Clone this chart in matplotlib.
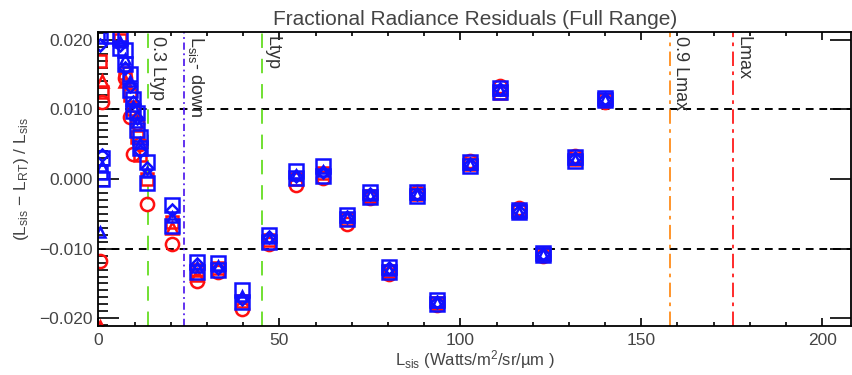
import numpy as np
import matplotlib
matplotlib.use("Agg")
import matplotlib.pyplot as plt
from matplotlib.ticker import MultipleLocator

plt.rcParams['font.family'] = ['Liberation Sans', 'DejaVu Sans']
plt.rcParams['mathtext.default'] = 'regular'

nan = np.nan

# Radiance levels (Watts/m^2/sr/um)
radiance = [0.4, 1.0, 3.5, 6.0, 7.4, 8.6, 9.6, 10.6, 11.6, 13.4, 20.3, 27.3,
            33.0, 39.6, 47.1, 54.6, 62.0, 68.6, 75.0, 80.2, 88.0, 93.5,
            102.6, 111.0, 116.2, 122.8, 131.6, 139.9]

# Fractional residuals per detector group
blue_sq_a = [0.0205, 0.0030, 0.0205, 0.0203, 0.0185, 0.0150, 0.0115, 0.0095,
             0.0060, 0.0025, -0.0038, -0.0119, -0.0120, -0.0159, -0.0080,
             0.0011, 0.0018, -0.0051, -0.0019, -0.0126, -0.0019, -0.0174,
             0.0024, 0.0131, -0.0045, -0.0106, 0.0031, 0.0116]
blue_sq_b = [0.0010, 0.0000, nan, 0.0188, 0.0165, 0.0128, 0.0098, 0.0070,
             0.0045, -0.0006, -0.0068, -0.0134, -0.0131, -0.0177, -0.0090,
             0.0002, 0.0005, -0.0058, -0.0026, -0.0134, -0.0024, -0.0179,
             0.0019, 0.0125, -0.0048, -0.0109, 0.0026, 0.0114]
blue_tri = [-0.0076, 0.0018, nan, 0.0196, 0.0172, 0.0140, 0.0105, 0.0082,
            0.0052, 0.0010, -0.0055, -0.0126, -0.0125, -0.0168, -0.0085,
            0.0006, 0.0012, -0.0055, -0.0023, -0.0130, -0.0022, -0.0177,
            0.0021, 0.0128, -0.0047, -0.0108, 0.0029, 0.0115]
blue_dia = [0.0192, 0.0035, nan, 0.0192, 0.0160, 0.0133, 0.0110, 0.0088,
            0.0040, 0.0016, -0.0045, -0.0122, -0.0128, -0.0172, -0.0083,
            0.0004, 0.0010, -0.0054, -0.0021, -0.0128, -0.0021, -0.0176,
            0.0022, 0.0129, -0.0046, -0.0107, 0.0030, 0.0115]
red_circ = [-0.0118, 0.0110, nan, nan, 0.0145, 0.0089, 0.0036, 0.0080,
            0.0050, -0.0036, -0.0093, -0.0146, -0.0134, -0.0186, -0.0094,
            -0.0009, 0.0001, -0.0064, -0.0028, -0.0136, -0.0018, -0.0181,
            0.0026, 0.0133, -0.0042, -0.0110, 0.0033, 0.0110]
red_sq = [0.0170, 0.0125, nan, 0.0200, 0.0152, 0.0120, 0.0100, 0.0060,
          0.0035, 0.0000, -0.0062, -0.0130, -0.0128, -0.0175, -0.0088,
          0.0000, 0.0008, -0.0058, -0.0025, -0.0132, -0.0021, -0.0178,
          0.0022, 0.0124, -0.0046, -0.0108, 0.0028, 0.0113]
red_tri = [-0.0212, 0.0140, nan, nan, 0.0140, nan, nan, nan,
           nan, nan, -0.0070, -0.0138, nan, nan, nan,
           nan, nan, nan, nan, nan, nan, nan,
           nan, nan, nan, nan, nan, nan]

# Reference radiance levels
L_typ = 45.2
L_down = 23.6
L_max = 175.4
thresholds = [0.010, -0.010]

fig = plt.figure(figsize=(8.52, 3.75), dpi=100)
ax = fig.add_axes([0.1156, 0.1307, 0.8834, 0.784])

ms = 9.5
mw = 1.8
red = '#ff1010'
blue = '#1010ff'
ax.plot(radiance, red_circ, 'o', ms=ms, mfc='none', mec=red, mew=mw)
ax.plot(radiance, red_sq, 's', ms=ms - 1, mfc='none', mec=red, mew=mw)
ax.plot(radiance, red_tri, '^', ms=ms - 1, mfc='none', mec=red, mew=mw)
ax.plot(radiance, blue_sq_a, 's', ms=ms, mfc='none', mec=blue, mew=mw)
ax.plot(radiance, blue_sq_b, 's', ms=ms, mfc='none', mec=blue, mew=mw)
ax.plot(radiance, blue_tri, '^', ms=ms - 2, mfc='none', mec=blue, mew=mw)
ax.plot(radiance, blue_dia, 'D', ms=ms - 3, mfc='none', mec=blue, mew=mw)

for t in thresholds:
    ax.axhline(t, color='black', lw=1.4, ls=(0, (4, 3)), zorder=1)

vlines = [
    (0.3 * L_typ, '#66dd22', (0, (8, 6)), '0.3 Ltyp'),
    (L_down, '#5522ee', (0, (4, 2, 1, 2)), 'L$_{sis}$- down'),
    (L_typ, '#66dd22', (0, (8, 6)), 'Ltyp'),
    (0.9 * L_max, '#ff8c1a', (0, (8, 3, 2, 3)), '0.9 Lmax'),
    (L_max, '#ff1a1a', (0, (8, 3, 2, 3)), 'Lmax'),
]
for xv, col, ls, lab in vlines:
    ax.axvline(xv, color=col, lw=1.3, ls=ls, zorder=1)
    ax.text(xv + 0.5, 0.0205, lab, rotation=-90, ha='left', va='top',
            fontsize=13, color='#333333')

ax.set_xlim(0, 208)
ax.set_ylim(-0.0211, 0.0211)
ax.xaxis.set_major_locator(MultipleLocator(50))
ax.xaxis.set_minor_locator(MultipleLocator(10))
ax.yaxis.set_major_locator(MultipleLocator(0.010))
ax.yaxis.set_minor_locator(MultipleLocator(0.001))
ax.yaxis.set_major_formatter(
    plt.FuncFormatter(lambda v, p: f"{v:.3f}".replace('-', '\u2212')))

ax.tick_params(axis='x', which='major', direction='in', length=6, width=1.2,
               top=True, labelsize=12.5, labelcolor='#444444', pad=5)
ax.tick_params(axis='x', which='minor', direction='in', length=3, width=1.2, top=True)
ax.tick_params(axis='y', which='major', direction='in', length=15, width=1.2,
               right=True, labelsize=12.5, labelcolor='#444444', pad=4)
ax.tick_params(axis='y', which='minor', direction='in', length=7, width=1.2, right=False)
for s in ax.spines.values():
    s.set_linewidth(1.3)

ax.set_title('Fractional Radiance Residuals (Full Range)', fontsize=15,
             color='#444444', pad=5)
ax.set_xlabel('L$_{sis}$ (Watts/m$^{2}$/sr/µm )', fontsize=12, color='#444444', labelpad=0)
ax.set_ylabel('(L$_{sis}$ − L$_{RT}$) / L$_{sis}$', fontsize=12.5, color='#444444', labelpad=6)

fig.savefig('out.png', dpi=100)
